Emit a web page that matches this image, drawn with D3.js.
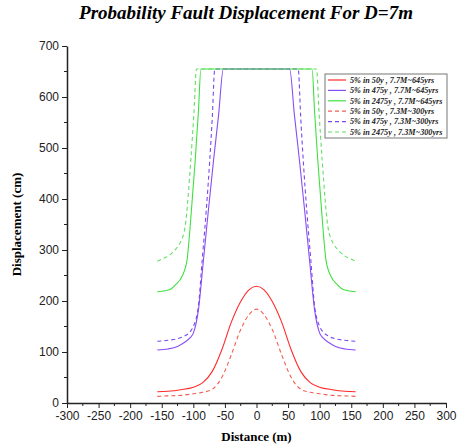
<!DOCTYPE html>
<html>
<head>
<meta charset="utf-8">
<script src="https://cdn.jsdelivr.net/npm/d3@7"></script>
<style>
  body { margin: 0; background: #fff; }
  svg { display: block; }
</style>
</head>
<body>
<div id="chart"></div>
<script>
// Values (distance in m, displacement in cm)
const xTicks = [-300, -250, -200, -150, -100, -50, 0, 50, 100, 150, 200, 250, 300];
const yTicks = [0, 100, 200, 300, 400, 500, 600, 700];

const dist50Solid = [-157, -140, -120, -100, -85, -70, -55, -40, -25, -12, 0, 12, 25, 40, 55, 70, 85, 100, 120, 140, 157];
const disp50Solid = [22, 23, 26, 31, 40, 62, 104, 158, 199, 222, 229, 222, 199, 158, 104, 62, 40, 31, 26, 23, 22];

const dist50Dash = [-157, -140, -120, -100, -85, -70, -55, -40, -25, -12, 0, 12, 25, 40, 55, 70, 85, 100, 120, 140, 157];
const disp50Dash = [13, 14, 15, 18, 21, 27, 50, 94, 144, 173, 184, 173, 144, 94, 50, 27, 21, 18, 15, 14, 13];

const dist475Solid = [-157, -140, -125, -115, -105, -100, -92, -84, -76, -68, -60, -52.5, 52.5, 60, 68, 76, 84, 92, 100, 105, 115, 125, 140, 157];
const disp475Solid = [104, 106, 111, 118, 128, 137, 182, 280, 380, 476, 565, 655, 655, 565, 476, 380, 280, 182, 137, 128, 118, 111, 106, 104];

const dist475Dash = [-157, -140, -125, -116, -105, -100, -92, -86, -80, -74, -70, -66, 66, 70, 74, 80, 86, 92, 100, 105, 116, 125, 140, 157];
const disp475Dash = [121, 123, 126, 130, 140, 150, 190, 280, 370, 476, 560, 655, 655, 560, 476, 370, 280, 190, 150, 140, 130, 126, 123, 121];

const dist2475Solid = [-157, -145, -135, -128, -118, -110, -105, -97, -92, -88, 88, 92, 97, 105, 110, 118, 128, 135, 145, 157];
const disp2475Solid = [218, 220, 224, 232, 248, 280, 346, 476, 570, 655, 655, 570, 476, 346, 280, 248, 232, 224, 220, 218];

const dist2475Dash = [-157, -148, -140, -134, -127, -121, -113, -104, -99, -95, 95, 99, 104, 113, 121, 127, 134, 140, 148, 157];
const disp2475Dash = [278, 283, 288, 294, 303, 314, 346, 476, 570, 655, 655, 570, 476, 346, 314, 303, 294, 288, 283, 278];

const seriesNames = [
    "5% in 50y , 7.7M~645yrs",
    "5% in 475y , 7.7M~645yrs",
    "5% in 2475y , 7.7M~645yrs",
    "5% in 50y , 7.3M~300yrs",
    "5% in 475y , 7.3M~300yrs",
    "5% in 2475y , 7.3M~300yrs"
];

const series = [
    { name: seriesNames[0], xs: dist50Solid, ys: disp50Solid, color: "#ff2a2a", dash: null },
    { name: seriesNames[1], xs: dist475Solid, ys: disp475Solid, color: "#8a4cf5", dash: null },
    { name: seriesNames[2], xs: dist2475Solid, ys: disp2475Solid, color: "#3fe03f", dash: null },
    { name: seriesNames[3], xs: dist50Dash, ys: disp50Dash, color: "#f06050", dash: "4,3" },
    { name: seriesNames[4], xs: dist475Dash, ys: disp475Dash, color: "#7a48f0", dash: "4,3" },
    { name: seriesNames[5], xs: dist2475Dash, ys: disp2475Dash, color: "#62e062", dash: "4,3" }
];

const width = 457, height = 448;
const margin = { top: 46, right: 11, bottom: 45, left: 67 };

const svg = d3.select("#chart").append("svg")
    .attr("width", width)
    .attr("height", height);

const x = d3.scaleLinear().domain([-300, 300]).range([margin.left, width - margin.right]);
const y = d3.scaleLinear().domain([0, 700]).range([height - margin.bottom, margin.top]);

// Title
svg.append("text")
    .attr("x", 246)
    .attr("y", 19)
    .attr("text-anchor", "middle")
    .style("font-family", "'Liberation Serif', 'Times New Roman', serif")
    .style("font-weight", "bold")
    .style("font-style", "italic")
    .style("font-size", "19px")
    .text("Probability Fault Displacement For D=7m");

// Axes (plain hyphen for negatives, like the original)
const xAxis = svg.append("g")
    .attr("transform", "translate(0," + y(0) + ")")
    .call(d3.axisBottom(x).tickValues(xTicks).tickFormat(d => String(d))
        .tickSize(5).tickPadding(3).tickSizeOuter(0));
xAxis.append("g")
    .selectAll("line")
    .data(d3.range(-275, 300, 50))
    .join("line")
    .attr("x1", d => x(d)).attr("x2", d => x(d))
    .attr("y1", 0).attr("y2", 3)
    .attr("stroke", "#222");

const yAxis = svg.append("g")
    .attr("transform", "translate(" + x(-300) + ",0)")
    .call(d3.axisLeft(y).tickValues(yTicks).tickFormat(d => String(d))
        .tickSize(5).tickPadding(3).tickSizeOuter(0));
yAxis.append("g")
    .selectAll("line")
    .data(d3.range(50, 700, 100))
    .join("line")
    .attr("y1", d => y(d)).attr("y2", d => y(d))
    .attr("x1", 0).attr("x2", -3)
    .attr("stroke", "#222");

[xAxis, yAxis].forEach(ax => {
    ax.select(".domain").attr("stroke", "#222").attr("stroke-width", 1.5);
    ax.selectAll(".tick line").attr("stroke", "#222");
    ax.selectAll(".tick text")
        .style("font-family", "'Liberation Sans', Arial, sans-serif")
        .style("font-size", "12px")
        .attr("fill", "#222");
});

// Axis titles
svg.append("text")
    .attr("x", x(0))
    .attr("y", 441)
    .attr("text-anchor", "middle")
    .style("font-family", "'Liberation Serif', 'Times New Roman', serif")
    .style("font-weight", "bold")
    .style("font-size", "13px")
    .text("Distance (m)");

svg.append("text")
    .attr("transform", "translate(21," + y(350) + ") rotate(-90)")
    .attr("text-anchor", "middle")
    .style("font-family", "'Liberation Serif', 'Times New Roman', serif")
    .style("font-weight", "bold")
    .style("font-size", "13px")
    .text("Displacement (cm)");

// Lines
const line = d3.line()
    .x(d => x(d[0]))
    .y(d => y(d[1]))
    .curve(d3.curveMonotoneX);

svg.append("g")
    .selectAll("path")
    .data(series)
    .join("path")
    .attr("fill", "none")
    .attr("stroke", d => d.color)
    .attr("stroke-width", 1.1)
    .attr("stroke-dasharray", d => d.dash)
    .attr("d", d => line(d.xs.map((v, i) => [v, d.ys[i]])));

// Legend
const legend = svg.append("g").attr("transform", "translate(325,74)");
legend.append("rect")
    .attr("width", 122)
    .attr("height", 64)
    .attr("fill", "#fff")
    .attr("stroke", "#777")
    .attr("stroke-width", 1);
const item = legend.selectAll("g.item")
    .data(series)
    .join("g")
    .attr("class", "item")
    .attr("transform", (d, i) => "translate(0," + (6 + i * 10.4) + ")");
item.append("line")
    .attr("x1", 3).attr("x2", 21)
    .attr("y1", 0).attr("y2", 0)
    .attr("stroke", d => d.color)
    .attr("stroke-width", 1.2)
    .attr("stroke-dasharray", d => d.dash);
item.append("text")
    .attr("x", 25)
    .attr("y", 2.8)
    .style("font-family", "'Liberation Serif', 'Times New Roman', serif")
    .style("font-weight", "bold")
    .style("font-style", "italic")
    .style("font-size", "8.2px")
    .attr("fill", "#222")
    .text(d => d.name);
</script>
</body>
</html>
